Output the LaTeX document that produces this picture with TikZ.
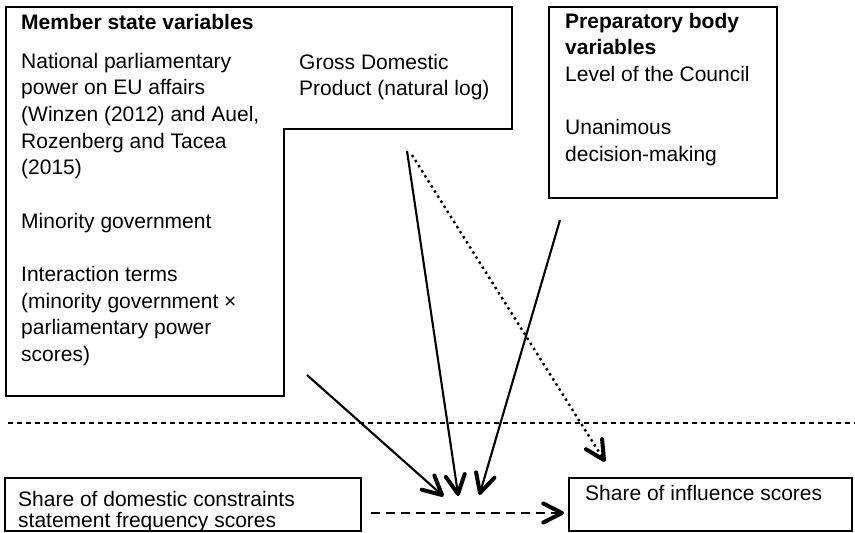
\documentclass[tikz,border=0pt]{standalone}
\usepackage{fontspec}
\setmainfont{Liberation Sans}
\usetikzlibrary{calc}
\tikzset{
  boxline/.style={line width=1.9pt, line join=miter},
  txt/.style={anchor=base west, inner sep=0pt, font=\fontsize{21}{26.7}\selectfont},
  txtb/.style={anchor=base west, inner sep=0pt, font=\fontsize{21}{21.5}\selectfont},
  headline/.style={line width=4pt, line cap=round, line join=round},
  solidarrow/.style={line width=2.1pt},
  dotarrow/.style={line width=2.4pt, dash pattern=on 2.4pt off 3.6pt},
  dasharrow/.style={line width=2.4pt, dash pattern=on 9pt off 6pt},
  sep/.style={line width=1.1pt, dash pattern=on 5pt off 4pt}
}
\newcommand\chevron[2]{\draw[headline] ($(#1)!21pt!27:(#2)$) -- (#1) -- ($(#1)!21pt!-27:(#2)$);}
\begin{document}
\begin{tikzpicture}[x=1pt,y=-1pt]
\useasboundingbox (0,0) rectangle (855,533);
% member state box (L-shaped)
\draw[boxline] (6,7) -- (512,7) -- (512,129) -- (284,129) -- (284,396) -- (6,396) -- cycle;
\node[txt, font=\fontsize{21}{26.7}\selectfont\bfseries] (mtitle) at (21,29) {Member state variables};
\node[txt] (mvars) at (21,68) {\begin{tabular}[t]{@{}l@{}}National parliamentary\\power on EU affairs\\(Winzen (2012) and Auel,\\Rozenberg and Tacea\\(2015)\\ \\Minority government\\ \\Interaction terms\\(minority government ×\\parliamentary power\\scores)\end{tabular}};
\node[txt] (gdp) at (299,69) {\begin{tabular}[t]{@{}l@{}}Gross Domestic\\Product (natural log)\end{tabular}};
% preparatory body box
\draw[boxline] (549,7) rectangle (777,198);
\node[txt] (prep) at (565,28) {\begin{tabular}[t]{@{}l@{}}\textbf{Preparatory body}\\\textbf{variables}\\Level of the Council\\ \\Unanimous\\decision-making\end{tabular}};
% separator
\coordinate (sepL) at (8,423);
\coordinate (sepR) at (855,423);
\draw[sep] (sepL) -- (sepR);
% bottom boxes
\draw[boxline] (5,478) rectangle (361,531);
\node[txtb] (dom) at (18,506) {\begin{tabular}[t]{@{}l@{}}Share of domestic constraints\\statement frequency scores\end{tabular}};
\draw[boxline] (569,478) rectangle (852,531);
\node[txtb] (infl) at (585,500) {Share of influence scores};
% arrow coordinates
\coordinate (s1) at (307,375); \coordinate (e1) at (442,495);
\coordinate (s2) at (407,151); \coordinate (e2) at (458,494);
\coordinate (s3) at (560,220); \coordinate (e3) at (480,493);
\coordinate (s4) at (412,155); \coordinate (e4) at (604,460);
\coordinate (s5) at (371,513); \coordinate (e5) at (562,513);
\draw[solidarrow] (s1) -- (e1); \chevron{e1}{s1}
\draw[solidarrow] (s2) -- (e2); \chevron{e2}{s2}
\draw[solidarrow] (s3) -- (e3); \chevron{e3}{s3}
\draw[dotarrow] (s4) -- (e4); \chevron{e4}{s4}
\draw[dasharrow] (s5) -- (e5); \chevron{e5}{s5}
\end{tikzpicture}
\end{document}
